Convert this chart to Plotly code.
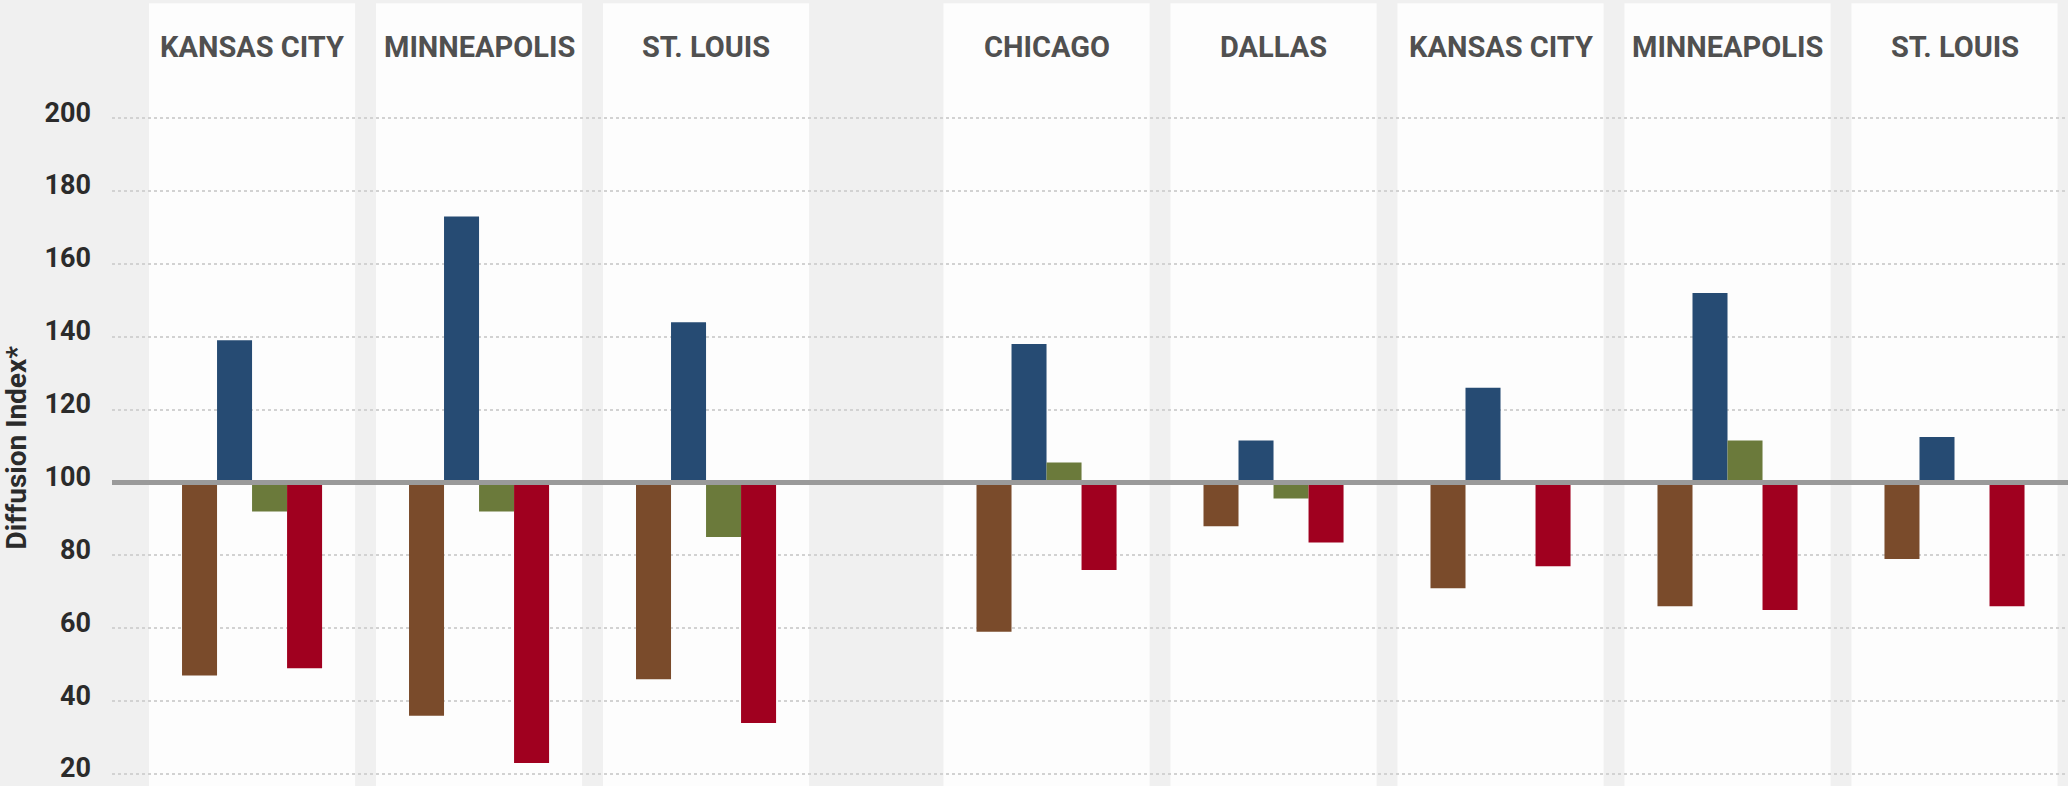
import plotly.graph_objects as go

# ---- data ----
cities = ["KANSAS CITY", "MINNEAPOLIS", "ST. LOUIS",
          "CHICAGO", "DALLAS", "KANSAS CITY", "MINNEAPOLIS", "ST. LOUIS"]
panel_group = [0, 0, 0, 1, 1, 1, 1, 1]
series_names = ["Series 1", "Series 2", "Series 3", "Series 4"]
brown_vals = [47, 36, 46, 59, 88, 71, 66, 79]
blue_vals = [139, 173, 144, 138, 111.5, 126, 152, 112.5]
green_vals = [92, 92, 85, 105.5, 95.6, 100, 111.5, 100]
red_vals = [49, 23, 34, 76, 83.5, 77, 65, 66]
y_ticks = [20, 40, 60, 80, 100, 120, 140, 160, 180, 200]
baseline = 100
y_title = "Diffusion Index*"

# ---- styling ----
FONT = "Roboto, Liberation Sans, sans-serif"
colors = ["#7A4B2B", "#264B73", "#6B7A3B", "#A0001F"]
BG = "#f0f0f0"
PANEL = "#fdfdfd"

# panel centres: one unit per panel, half-unit extra gap between groups
xpos = [i + 0.5 * g for i, g in enumerate(panel_group)]

fig = go.Figure()
for name, vals, col in zip(series_names, [brown_vals, blue_vals, green_vals, red_vals], colors):
    fig.add_trace(go.Bar(
        x=xpos, y=[v - baseline for v in vals], base=baseline,
        name=name, marker=dict(color=col, line=dict(width=0)),
        customdata=cities,
        hovertemplate="%{customdata}: %{y}<extra></extra>",
    ))

shapes = []
half = 0.454
for xc in xpos:
    shapes.append(dict(type="rect", xref="x", yref="paper",
                       x0=xc - half, x1=xc + half, y0=0, y1=0.996,
                       fillcolor=PANEL, line=dict(width=0), layer="below"))
shapes.append(dict(type="line", xref="paper", yref="y", x0=0, x1=1,
                   y0=baseline, y1=baseline,
                   line=dict(color="#9a9a9a", width=5), layer="above"))

annotations = []
for xc, c in zip(xpos, cities):
    annotations.append(dict(x=xc, y=0.940, xref="x", yref="paper", text=c,
                            showarrow=False, xanchor="center", yanchor="middle",
                            font=dict(family=FONT, size=29, color="#505050", weight="bold")))
annotations.append(dict(x=-0.049, y=0.431, xref="paper", yref="paper", text=y_title,
                        textangle=-90, showarrow=False, xanchor="center", yanchor="middle",
                        font=dict(family=FONT, size=28, color="#2b2b2b", weight="bold")))

fig.update_layout(
    width=2068, height=786,
    margin=dict(l=112, r=0, t=0, b=0, autoexpand=False),
    paper_bgcolor=BG, plot_bgcolor=BG,
    barmode="group", bargap=0.383, bargroupgap=0,
    showlegend=False,
    shapes=shapes, annotations=annotations,
    xaxis=dict(range=[-0.617, 8.0], showgrid=False, zeroline=False, automargin=False,
               showticklabels=False, showline=False, fixedrange=True),
    yaxis=dict(range=[16.7, 232.4], tickvals=y_ticks, showgrid=True, automargin=False,
               gridcolor="#d2d2d2", gridwidth=2, griddash="dot",
               zeroline=False, showline=False, ticks="",
               ticklabelstandoff=20, ticklabelshift=-6,
               ticklabeloverflow="allow",
               tickfont=dict(family=FONT, size=27, color="#2b2b2b", weight="bold")),
)

fig.write_html("out.html",
               config={"displayModeBar": False},
               post_script="document.body.style.margin='0';document.body.style.overflow='hidden';")
